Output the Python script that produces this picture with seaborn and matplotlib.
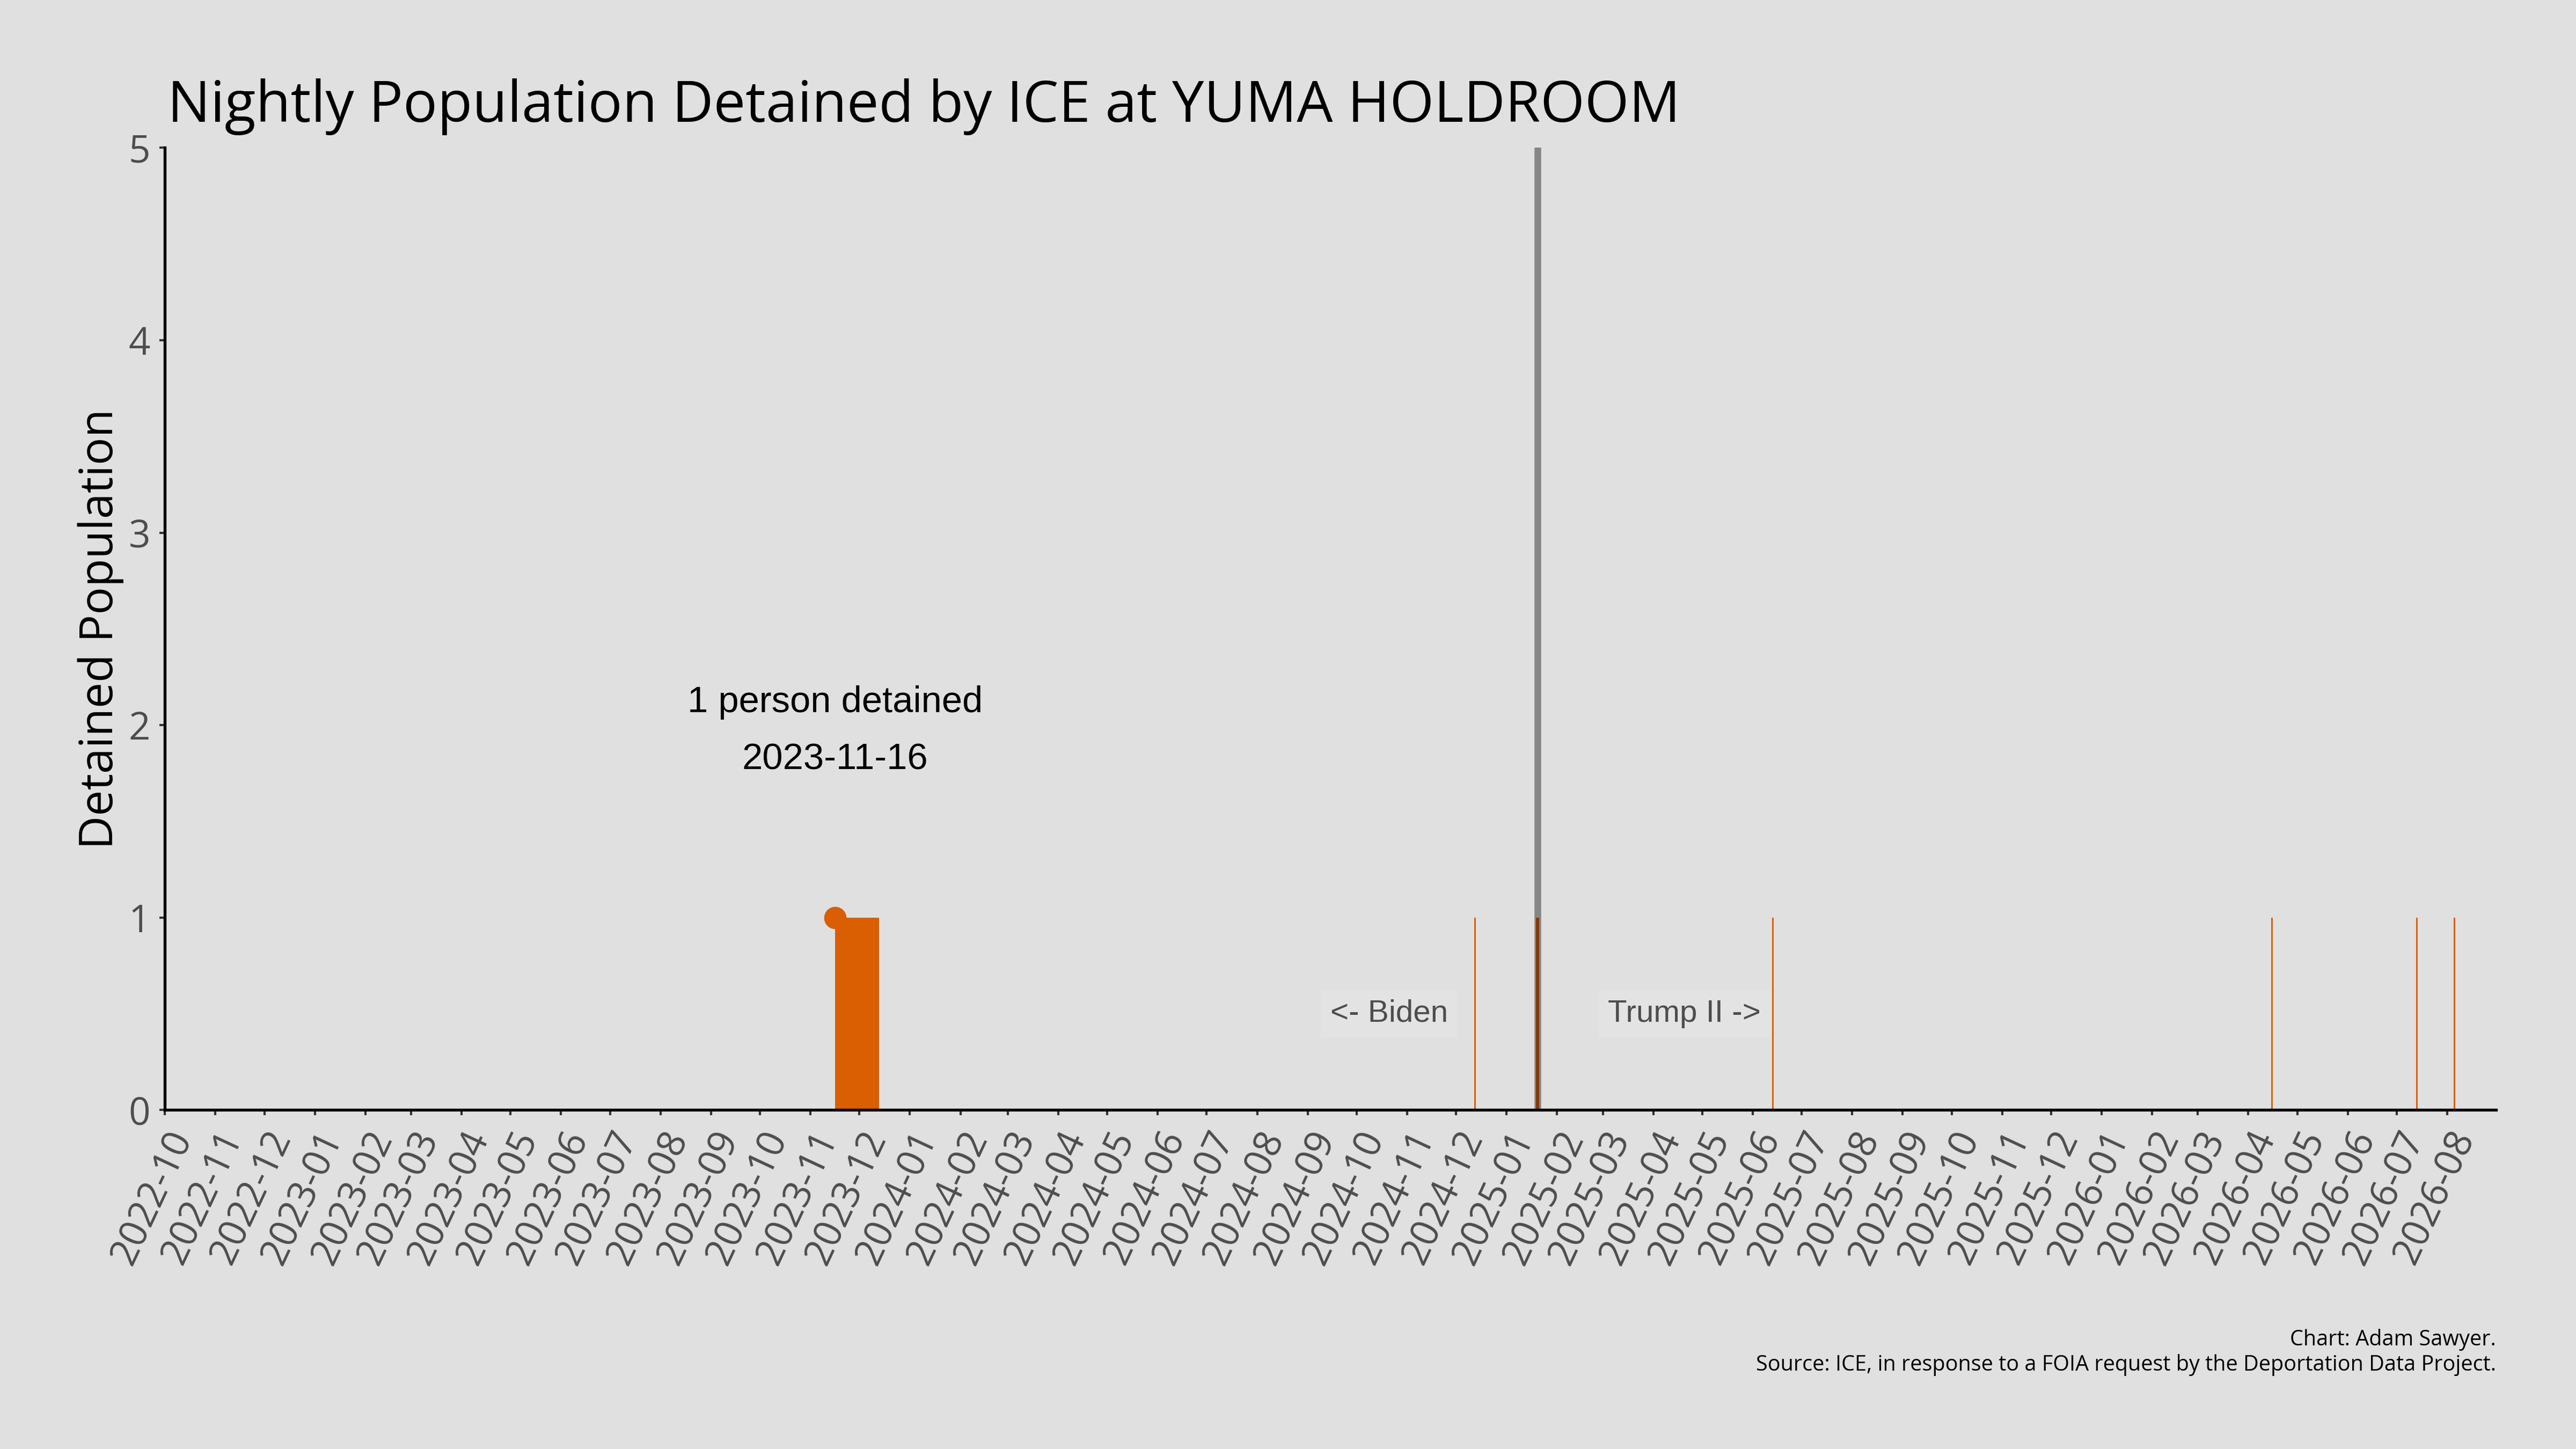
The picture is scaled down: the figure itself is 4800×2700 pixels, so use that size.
import pandas as pd
import matplotlib.pyplot as plt
import matplotlib.dates as mdates
import seaborn as sns

# nights with someone held at the facility: first night, number of nights, headcount
stay_start = ["2023-11-16", "2024-12-12", "2025-01-19", "2025-06-13",
              "2026-04-15", "2026-07-13", "2026-08-05"]
stay_nights = [27, 1, 2, 1, 1, 1, 1]
stay_population = [1, 1, 1, 1, 1, 1, 1]

peak_date = "2023-11-16"
peak_value = 1
inauguration = "2025-01-20"
x_start = "2022-10-01"
x_end = "2026-08-31"

stays = pd.DataFrame({
    "start": pd.to_datetime(stay_start),
    "nights": pd.to_timedelta(stay_nights, unit="D"),
    "population": stay_population,
})
peak = pd.DataFrame({"date": pd.to_datetime([peak_date]), "population": [peak_value]})

bg = "#e0e0e0"
orange = "#d95f02"
sns.set_theme(style="ticks", rc={"axes.facecolor": bg, "figure.facecolor": bg,
                                 "savefig.facecolor": bg})
plt.rcParams["font.family"] = ["Open Sans", "DejaVu Sans"]

fig, ax = plt.subplots(figsize=(16, 9), dpi=300)
fig.subplots_adjust(left=0.064, right=0.969, top=0.898, bottom=0.234)

ax.bar(stays["start"], stays["population"], width=stays["nights"], align="edge",
       color=orange, linewidth=0, zorder=2)
sns.scatterplot(data=peak, x="date", y="population", ax=ax, color=orange, s=100,
                linewidth=0, zorder=3, legend=False)

ax.axvline(pd.Timestamp(inauguration), color="black", alpha=0.4, linewidth=3, zorder=4)

box = dict(boxstyle="square,pad=0.3", facecolor="#e3e3e3", edgecolor="none")
ax.text(pd.Timestamp("2024-11-26"), 0.5, "<- Biden", ha="right", va="center",
        fontsize=14, color="#4d4d4d", family=["Liberation Sans", "DejaVu Sans"],
        bbox=box, zorder=5)
ax.text(pd.Timestamp("2025-03-04"), 0.5, "Trump II ->", ha="left", va="center",
        fontsize=14, color="#4d4d4d", family=["Liberation Sans", "DejaVu Sans"],
        bbox=box, zorder=5)
ax.text(pd.Timestamp(peak_date), 1.97, "1 person detained\n2023-11-16", ha="center",
        va="center", fontsize=16.5, color="black", linespacing=1.85,
        family=["Liberation Sans", "DejaVu Sans"], zorder=5)

ax.set_xlim(pd.Timestamp(x_start), pd.Timestamp(x_end))
ax.set_ylim(0, 5)
ax.set_yticks(range(0, 6))
ax.xaxis.set_major_locator(mdates.MonthLocator())
ax.xaxis.set_major_formatter(mdates.DateFormatter("%Y-%m"))

ax.tick_params(axis="both", length=2.5, width=1, color="#333333",
               labelcolor="#4d4d4d", labelsize=17, pad=4)
for lab in ax.get_xticklabels():
    lab.set_rotation(65)
    lab.set_ha("right")
    lab.set_va("top")
    lab.set_rotation_mode("anchor")

sns.despine(ax=ax)
for side in ["left", "bottom"]:
    ax.spines[side].set_color("black")
    ax.spines[side].set_linewidth(1.3)

ax.set_xlabel("")
ax.set_ylabel("Detained Population", fontsize=20.6, color="black", labelpad=2)

fig.text(0.065, 0.916, "Nightly Population Detained by ICE at YUMA HOLDROOM",
         fontsize=25.5, color="black", ha="left", va="baseline")
fig.text(0.969, 0.054, "Chart: Adam Sawyer.\nSource: ICE, in response to a FOIA request by the Deportation Data Project.",
         fontsize=9.5, color="black", ha="right", va="baseline", linespacing=1.2)

fig.savefig("out.png", dpi=300)
